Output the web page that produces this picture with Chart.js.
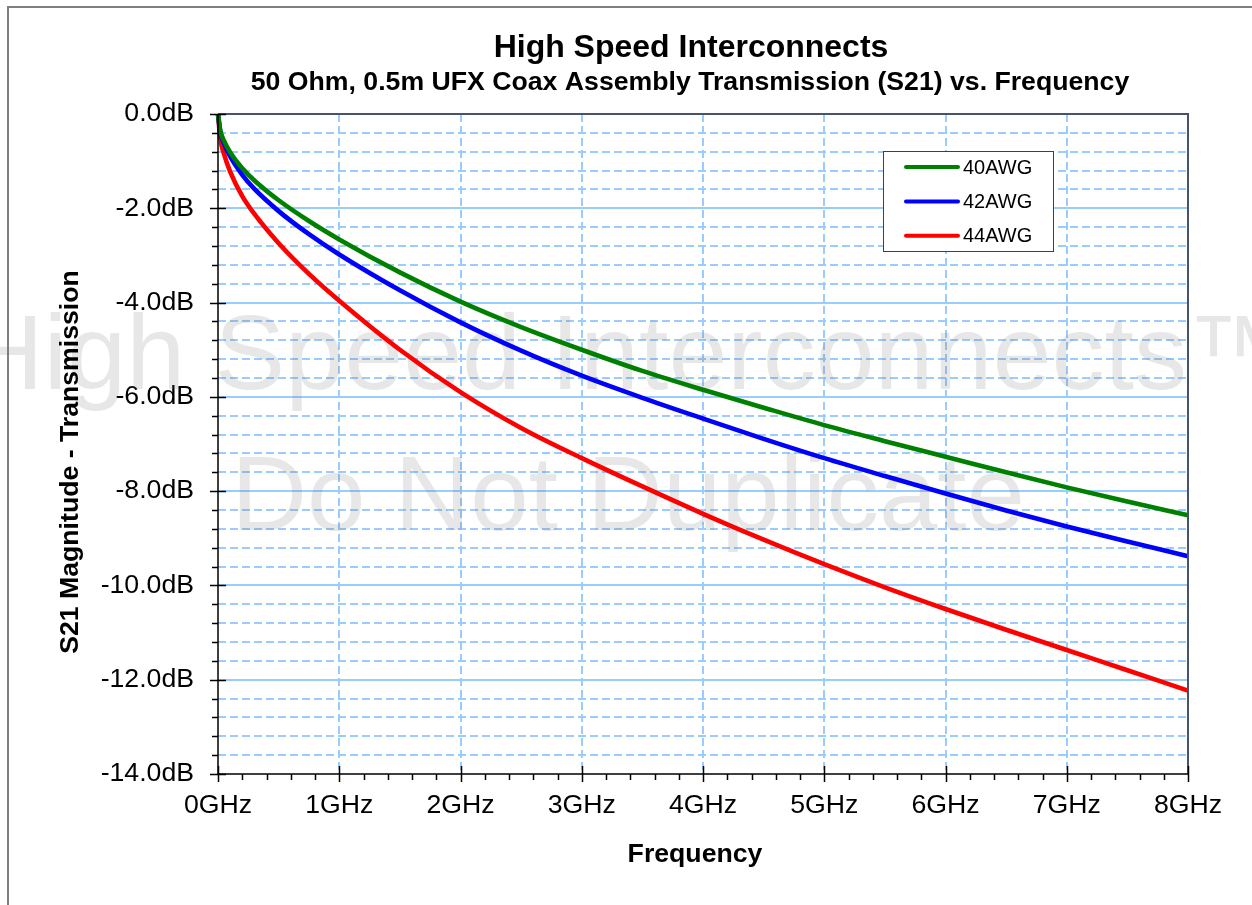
<!DOCTYPE html>
<html>
<head>
<meta charset="utf-8">
<script src="https://cdn.jsdelivr.net/npm/chart.js@4.4.1/dist/chart.umd.min.js"></script>
<style>
  html, body { margin: 0; padding: 0; background: #ffffff; overflow: hidden; }
  #wrap { position: absolute; left: 0; top: 0; width: 1252px; height: 905px; }
</style>
</head>
<body>
<div id="wrap"><canvas id="c" width="1252" height="905"></canvas></div>
<script>
// ---------------- DATA ----------------
const freqGHz   = [0, 0.02, 0.05, 0.1, 0.2, 0.3, 0.5, 0.75, 1, 1.5, 2, 2.5, 3, 3.5, 4, 4.5, 5, 5.5, 6, 6.5, 7, 7.5, 8];
const s21_40AWG = [0, -0.36, -0.57, -0.81, -1.15, -1.41, -1.83, -2.27, -2.66, -3.36, -3.98, -4.52, -5.0, -5.45, -5.85, -6.23, -6.6, -6.94, -7.27, -7.6, -7.92, -8.22, -8.51];
const s21_42AWG = [0, -0.4, -0.63, -0.9, -1.29, -1.59, -2.06, -2.55, -2.98, -3.74, -4.42, -5.02, -5.55, -6.02, -6.46, -6.89, -7.3, -7.68, -8.05, -8.41, -8.75, -9.07, -9.38];
const s21_44AWG = [0, -0.54, -0.85, -1.22, -1.74, -2.12, -2.74, -3.39, -3.96, -5.0, -5.9, -6.66, -7.3, -7.9, -8.48, -9.03, -9.55, -10.04, -10.5, -10.94, -11.37, -11.8, -12.23];
const seriesNames = ['40AWG', '42AWG', '44AWG'];
const seriesColors = ['#008000', '#0000ff', '#ff0000'];

const chartTitle = 'High Speed Interconnects';
const chartSubtitle = '50 Ohm, 0.5m UFX Coax Assembly Transmission (S21) vs. Frequency';
const xTitle = 'Frequency';
const yTitle = 'S21 Magnitude - Transmission';
const watermark1 = 'High Speed Interconnects\u2122';
const watermark2 = 'Do Not Duplicate';

const xMin = 0, xMax = 8, xMinorStep = 0.2;
const yMin = -14, yMax = 0, yMinorStep = 0.4;

// --------------------------------------
const FONT = '"Liberation Sans", Arial, Helvetica, sans-serif';
const GRID = '#99ccff';
const FRAME = '#44546a';

function toPts(ys) { return freqGHz.map((f, i) => ({ x: f, y: ys[i] })); }
const isInt = v => Math.abs(v - Math.round(v)) < 1e-6;
const isMajY = v => Math.abs(v / 2 - Math.round(v / 2)) < 1e-6;

const overlay = {
  id: 'overlay',
  beforeDatasetsDraw(chart) {
    const ctx = chart.ctx;
    ctx.save();
    ctx.fillStyle = 'rgba(110,110,110,0.17)';
    ctx.textAlign = 'center';
    ctx.textBaseline = 'alphabetic';
    ctx.font = '106px ' + FONT;
    ctx.fillText(watermark1, 630, 389);
    ctx.font = '105px ' + FONT;
    ctx.fillText(watermark2, 628, 530);
    ctx.restore();
  },
  afterDatasetsDraw(chart) {
    const ctx = chart.ctx;
    const xs = chart.scales.x, ys = chart.scales.y;
    const a = chart.chartArea;
    ctx.save();
    // plot frame top & right
    ctx.strokeStyle = FRAME;
    ctx.lineWidth = 2;
    ctx.beginPath();
    ctx.moveTo(a.left, a.top); ctx.lineTo(a.right, a.top); ctx.lineTo(a.right, a.bottom);
    ctx.stroke();
    // axes
    ctx.strokeStyle = '#000';
    ctx.lineWidth = 1.5;
    ctx.beginPath();
    ctx.moveTo(a.left, a.top); ctx.lineTo(a.left, a.bottom); ctx.lineTo(a.right, a.bottom);
    ctx.stroke();
    // tick marks
    ctx.beginPath();
    ys.ticks.forEach(t => {
      const p = Math.round(ys.getPixelForValue(t.value)) + 0.5;
      if (isMajY(t.value)) { ctx.moveTo(a.left - 8, p); ctx.lineTo(a.left + 8, p); }
      else { ctx.moveTo(a.left - 6, p); ctx.lineTo(a.left, p); }
    });
    xs.ticks.forEach(t => {
      const p = Math.round(xs.getPixelForValue(t.value)) + 0.5;
      if (isInt(t.value)) { ctx.moveTo(p, a.bottom - 8); ctx.lineTo(p, a.bottom + 8); }
      else { ctx.moveTo(p, a.bottom); ctx.lineTo(p, a.bottom + 6); }
    });
    ctx.stroke();
    // legend
    const L = { x: 883, y: 151, w: 170, h: 100 };
    ctx.fillStyle = '#fff';
    ctx.fillRect(L.x, L.y, L.w, L.h);
    ctx.strokeStyle = '#404040';
    ctx.lineWidth = 1;
    ctx.strokeRect(L.x + 0.5, L.y + 0.5, L.w, L.h);
    ctx.font = '20px ' + FONT;
    ctx.textAlign = 'left';
    ctx.textBaseline = 'middle';
    chart.data.datasets.forEach((ds, i) => {
      const yy = 167 + i * 34.4;
      ctx.strokeStyle = ds.borderColor;
      ctx.lineWidth = 4;
      ctx.lineCap = 'round';
      ctx.beginPath(); ctx.moveTo(906, yy); ctx.lineTo(958, yy); ctx.stroke();
      ctx.fillStyle = '#000';
      ctx.fillText(ds.label, 963, yy + 1);
    });
    ctx.restore();
  },
  afterDraw(chart) {
    const ctx = chart.ctx;
    ctx.save();
    ctx.fillStyle = '#000';
    ctx.textAlign = 'center';
    ctx.textBaseline = 'alphabetic';
    ctx.font = 'bold 32px ' + FONT;
    ctx.fillText(chartTitle, 691, 57);
    ctx.font = 'bold 26.67px ' + FONT;
    ctx.fillText(chartSubtitle, 690, 90);
    ctx.fillText(xTitle, 695, 862);
    ctx.translate(78, 462);
    ctx.rotate(-Math.PI / 2);
    ctx.fillText(yTitle, 0, 0);
    ctx.restore();
    // outer border
    ctx.save();
    ctx.strokeStyle = '#7f7f7f';
    ctx.lineWidth = 2;
    ctx.beginPath();
    ctx.moveTo(8, 910); ctx.lineTo(8, 7); ctx.lineTo(1260, 7);
    ctx.stroke();
    ctx.restore();
  }
};

new Chart(document.getElementById('c'), {
  type: 'line',
  data: {
    datasets: [s21_40AWG, s21_42AWG, s21_44AWG].map((d, i) => ({
      label: seriesNames[i],
      data: toPts(d),
      borderColor: seriesColors[i],
      backgroundColor: seriesColors[i],
      borderWidth: 4.6,
      pointRadius: 0,
      fill: false,
      cubicInterpolationMode: 'monotone',
      clip: 6
    }))
  },
  options: {
    responsive: false,
    animation: false,
    events: [],
    layout: { padding: { left: 0, right: 64, top: 114, bottom: 0 } },
    plugins: { legend: { display: false }, title: { display: false }, tooltip: { enabled: false } },
    scales: {
      x: {
        type: 'linear', min: xMin, max: xMax,
        afterFit: s => { s.height = 131; },
        ticks: {
          stepSize: xMinorStep, autoSkip: false, maxRotation: 0, padding: 16,
          color: '#000', font: { family: FONT, size: 26.67 },
          callback: v => isInt(v) ? Math.round(v) + 'GHz' : ''
        },
        grid: {
          drawTicks: false, lineWidth: 2,
          color: c => (c.tick && isInt(c.tick.value) && c.tick.value > xMin) ? GRID : 'rgba(0,0,0,0)'
        },
        border: { display: false, dash: c => (c.tick ? [8, 4] : []) }
      },
      y: {
        type: 'linear', min: yMin, max: yMax,
        afterFit: s => { s.width = 218; },
        ticks: {
          stepSize: yMinorStep, autoSkip: false, padding: 24,
          color: '#000', font: { family: FONT, size: 26.67 },
          callback: v => isMajY(v) ? (Math.round(v * 10) / 10).toFixed(1) + 'dB' : ''
        },
        grid: {
          drawTicks: false, lineWidth: 2,
          color: c => (c.tick && c.tick.value < yMax - 1e-6 && c.tick.value > yMin + 1e-6) ? GRID : 'rgba(0,0,0,0)'
        },
        border: { display: false, dash: c => (c.tick && !isMajY(c.tick.value)) ? [8, 4] : [] }
      }
    }
  },
  plugins: [overlay]
});
</script>
</body>
</html>
